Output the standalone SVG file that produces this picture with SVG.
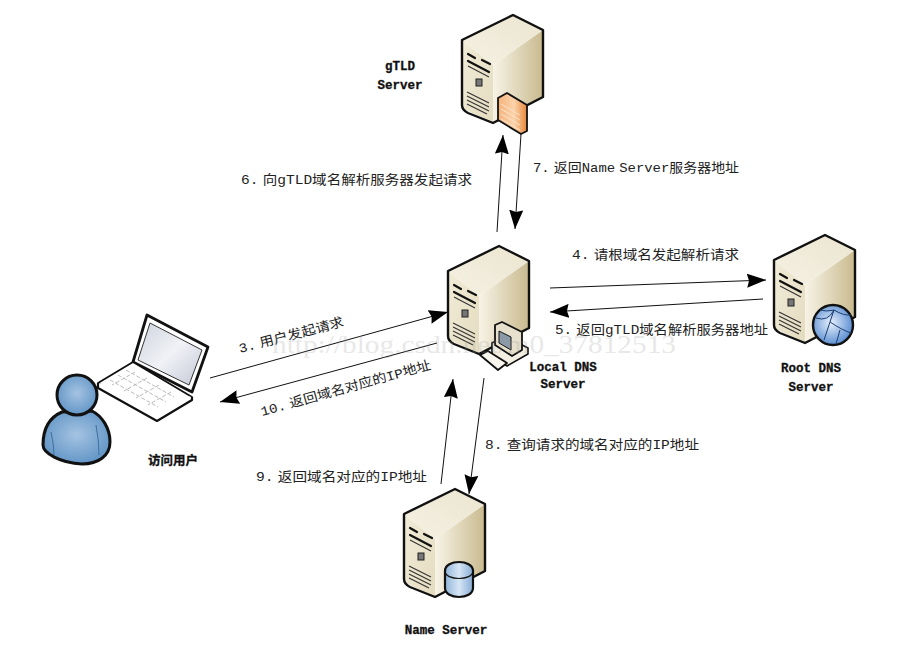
<svg xmlns="http://www.w3.org/2000/svg" width="906" height="660" viewBox="0 0 906 660">
<style>
.lb{font-family:"Liberation Mono","Noto Sans CJK SC",monospace;font-size:13px;fill:#222;word-spacing:-4px}
.nm{font-family:"Liberation Mono","Noto Sans CJK SC",monospace;font-size:12.5px;font-weight:700;fill:#111;text-anchor:middle;stroke:#111;stroke-width:.3}
.wm{font-family:"Liberation Serif",serif;font-size:25px;fill:#999;opacity:.22}
.c line{stroke:#111;stroke-width:1;fill:none;marker-end:url(#ah)}
.o{stroke:#111;stroke-width:2.4;stroke-linejoin:round}
.d{stroke:#333;stroke-width:1.1;fill:none}
.k{stroke:#111;stroke-width:2.2;fill:none;stroke-linecap:round}
</style>
<defs>
<marker id="ah" markerUnits="userSpaceOnUse" markerWidth="20" markerHeight="14" refX="19" refY="7" orient="auto"><path d="M0 0L19 7L0 14L2 7Z" fill="#000"/></marker>
<linearGradient id="sf" x1="0" y1="0" x2="1" y2="1"><stop offset="0" stop-color="#f1ecd8"/><stop offset="1" stop-color="#e4dcc0"/></linearGradient>
<linearGradient id="ss" x1="0" y1="0" x2="1" y2="0"><stop offset="0" stop-color="#f7f3e6"/><stop offset="1" stop-color="#c9ba8e"/></linearGradient>
<linearGradient id="st" x1="0" y1="1" x2="1" y2="0"><stop offset="0" stop-color="#f5f1e3"/><stop offset="1" stop-color="#ebe5d0"/></linearGradient>
<linearGradient id="cy" x1="0" y1="0" x2="1" y2="0"><stop offset="0" stop-color="#8fb4da"/><stop offset=".5" stop-color="#d6e6f5"/><stop offset="1" stop-color="#86acd4"/></linearGradient>
<linearGradient id="or" x1="0" y1="0" x2="1" y2="0"><stop offset="0" stop-color="#f5b27a"/><stop offset=".55" stop-color="#fbd3ab"/><stop offset="1" stop-color="#e8873a"/></linearGradient>
<radialGradient id="bl" cx=".5" cy=".45" r=".6"><stop offset="0" stop-color="#a5c3e2"/><stop offset="1" stop-color="#5d92c4"/></radialGradient>
<radialGradient id="gb" cx=".45" cy=".45" r=".6"><stop offset="0" stop-color="#e6f0fb"/><stop offset="1" stop-color="#4f86cf"/></radialGradient>
<linearGradient id="sc" x1="0" y1="0" x2="1" y2="1"><stop offset="0" stop-color="#cfd3de"/><stop offset=".5" stop-color="#f0f2f6"/><stop offset="1" stop-color="#c4c8d6"/></linearGradient>
<g id="srv">
<path d="M31 50L81 15V82L31 108Z" fill="url(#ss)"/>
<path d="M0 25L31 50V108L0 93Z" fill="url(#sf)"/>
<path d="M0 25L51 0L81 15L31 50Z" fill="url(#st)"/>
<path d="M0 25L51 0L81 15V82L31 108L6 98Q0 95 0 90Z" fill="none" class="o"/>
<path d="M6 39L13 43M20 45L28 49" class="k"/>
<path d="M6 46L27 57" class="k"/>
<path d="M6 51L27 62" class="d"/>
<rect x="14" y="64" width="6" height="7" fill="#777" stroke="#222"/>
<path d="M5 77L27 88M5 81L27 92M5 85L27 96M5 89L25 99" class="d"/>
</g>
</defs>
<rect width="906" height="660" fill="#fff"/>

<g id="connectors" class="c">
<line x1="497" y1="232" x2="503" y2="135"/>
<line x1="521" y1="134" x2="515" y2="229"/>
<line x1="550" y1="288" x2="766" y2="280"/>
<line x1="763" y1="299" x2="550" y2="312"/>
<line x1="210" y1="378" x2="448" y2="312"/>
<line x1="437" y1="343" x2="220" y2="402"/>
<line x1="441" y1="484" x2="453" y2="379"/>
<line x1="484" y1="378" x2="469" y2="494"/>
</g>

<g id="gtld"><use href="#srv" x="462" y="15"/>
<path d="M498 98L507 93L527 105V131L521 134L498 120Z" fill="url(#or)" stroke="#111" stroke-width="1.8" stroke-linejoin="round"/>
<path d="M501 104L520 115M501 109L520 120M501 114L520 125M501 119L520 130" stroke="#f8e2cb" fill="none"/>
<text class="nm" x="400" y="70">gTLD</text><text class="nm" x="400" y="89">Server</text></g>

<g id="local"><use href="#srv" x="448" y="246"/>
<path d="M492 343L505 336L528 348V354L507 366L492 356Z" fill="#f3efe2" stroke="#111" stroke-width="1.6" stroke-linejoin="round"/>
<path d="M495 325L502 322L522 332V350L512 356L495 345Z" fill="#e6e0cc" stroke="#111" stroke-width="1.8" stroke-linejoin="round"/>
<path d="M499 331L511 337V350L499 343Z" fill="#8a9aa8" stroke="#111"/>
<path d="M480 355L488 351L507 363L498 370Z" fill="#f7f5ee" stroke="#111" stroke-width="1.8" stroke-linejoin="round"/>
<text class="nm" x="563" y="371">Local DNS</text><text class="nm" x="563" y="388">Server</text></g>

<g id="root"><use href="#srv" x="774" y="235"/>
<circle cx="833" cy="325" r="20" fill="url(#gb)" stroke="#111" stroke-width="2.4"/>
<path d="M816 318Q828 322 834 310Q844 316 851 315M830 322L824 340M830 322Q842 330 851 333M834 310L830 322M840 330L836 344M820 310Q826 312 834 310" fill="none" stroke="#1c3e70"/>
<text class="nm" x="811" y="372">Root DNS</text><text class="nm" x="811" y="391">Server</text></g>

<g id="name"><use href="#srv" x="404" y="489"/>
<path d="M445 571C445 559 473 559 473 571V588C473 600 445 600 445 588Z" fill="url(#cy)" stroke="#111" stroke-width="2.2"/>
<path d="M445 571C445 581 473 581 473 571" fill="none" stroke="#111" stroke-width="1.2"/>
<text class="nm" x="446" y="634">Name Server</text></g>

<g id="user">
<path d="M147 315L208 347L192 392L133 362Z" fill="#fff" stroke="#111" stroke-width="2.8" stroke-linejoin="round"/>
<path d="M150 323L202 350L189 385L138 360Z" fill="url(#sc)" stroke="#333"/>
<path d="M133 362L98 383L157 417L192 397Z" fill="#fff" stroke="#111" stroke-width="1.8" stroke-linejoin="round"/>
<path d="M98 383V388L157 421L192 400V397" fill="#fff" stroke="#111" stroke-width="2.2" stroke-linejoin="round"/>
<path d="M126 370L174 397M118 375L166 402M110 380L158 407M135 372L112 385M147 378L124 391M159 385L136 398M171 392L148 405" stroke="#bbb" fill="none" stroke-dasharray="4 2"/>
<path d="M62 412C48 418 43 430 43 445C43 453 60 463 82 464C98 464 110 456 110 442C110 428 102 416 92 411Z" fill="url(#bl)" stroke="#111" stroke-width="3"/>
<path d="M51 432Q54 445 54 455M96 425Q99 440 99 455" stroke="#3f6f9f" fill="none"/>
<circle cx="77" cy="395" r="20" fill="url(#bl)" stroke="#111" stroke-width="3"/>
<text class="nm" x="173" y="465">访问用户</text>
</g>

<g id="labels">
<text class="lb" x="241" y="184" textLength="231" lengthAdjust="spacingAndGlyphs">6. 向gTLD域名解析服务器发起请求</text>
<text class="lb" x="533" y="172" textLength="206" lengthAdjust="spacingAndGlyphs">7. 返回Name Server服务器地址</text>
<text class="lb" x="572" y="259" textLength="167" lengthAdjust="spacingAndGlyphs">4. 请根域名发起解析请求</text>
<text class="lb" x="555" y="334" textLength="213" lengthAdjust="spacingAndGlyphs">5. 返回gTLD域名解析服务器地址</text>
<text class="lb" transform="translate(240 353) rotate(-14.5)" textLength="108" lengthAdjust="spacingAndGlyphs">3. 用户发起请求</text>
<text class="lb" transform="translate(262 416) rotate(-15.5)" textLength="176" lengthAdjust="spacingAndGlyphs">10. 返回域名对应的IP地址</text>
<text class="lb" x="485" y="449" textLength="214" lengthAdjust="spacingAndGlyphs">8. 查询请求的域名对应的IP地址</text>
<text class="lb" x="256" y="481" textLength="171" lengthAdjust="spacingAndGlyphs">9. 返回域名对应的IP地址</text>
</g>
<text class="wm" x="272" y="353" textLength="404" lengthAdjust="spacingAndGlyphs">http://blog.csdn.net/m0_37812513</text>
</svg>
